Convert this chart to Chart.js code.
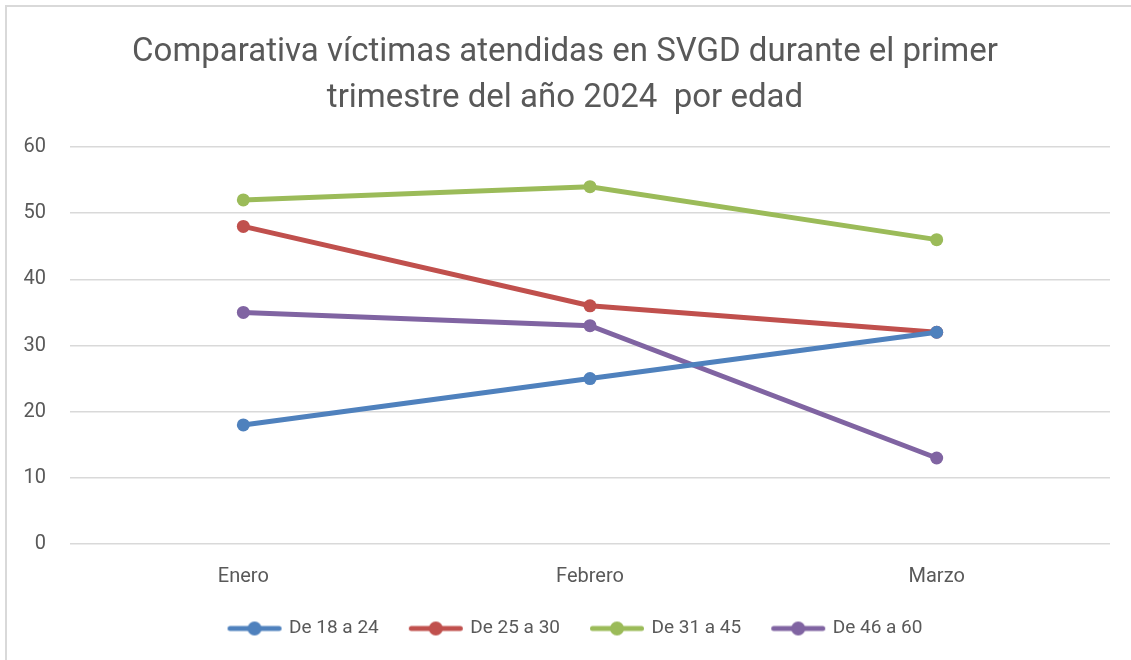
<!DOCTYPE html>
<html>
<head>
<meta charset="utf-8">
<script src="https://cdn.jsdelivr.net/npm/chart.js@4.4.1/dist/chart.umd.min.js"></script>
<style>
  html, body { margin: 0; padding: 0; background: #fff; }
  #wrap { position: relative; width: 1131px; height: 660px; }
</style>
</head>
<body>
<div id="wrap"><canvas id="c" width="1131" height="660"></canvas></div>
<script>
const categories = ["Enero", "Febrero", "Marzo"];
const seriesNames = ["De 18 a 24", "De 25 a 30", "De 31 a 45", "De 46 a 60"];
const de18a24 = [18, 25, 32];
const de25a30 = [48, 36, 32];
const de31a45 = [52, 54, 46];
const de46a60 = [35, 33, 13];
const titleLines = ["Comparativa víctimas atendidas en SVGD durante el primer", "trimestre del año 2024  por edad"];
const yMin = 0, yMax = 60, yStep = 10;

const colors = ["#4F81BD", "#C0504D", "#9BBB59", "#8064A2"];
const seriesValues = [de18a24, de25a30, de31a45, de46a60];
const FONT = "Roboto, 'Liberation Sans', sans-serif";
const TEXT = "#595959";

// legend marker: line with a dot, drawn in the right part of a wider image
function legendIcon(color) {
  const c = document.createElement("canvas");
  c.width = 82; c.height = 16;
  const x = c.getContext("2d");
  x.strokeStyle = color; x.lineWidth = 5; x.lineCap = "round";
  x.beginPath(); x.moveTo(27.5, 8); x.lineTo(76.5, 8); x.stroke();
  x.fillStyle = color;
  x.beginPath(); x.arc(52, 8, 7, 0, Math.PI * 2); x.fill();
  return c;
}

const borderPlugin = {
  id: "frame",
  afterDraw(chart) {
    const ctx = chart.ctx;
    ctx.save();
    ctx.strokeStyle = "#D9D9D9";
    ctx.lineWidth = 2;
    ctx.beginPath();
    ctx.moveTo(6, 660); ctx.lineTo(6, 6); ctx.lineTo(1131, 6);
    ctx.stroke();
    ctx.restore();
  }
};

new Chart(document.getElementById("c"), {
  type: "line",
  data: {
    labels: categories,
    datasets: seriesNames.map((n, i) => ({
      label: n,
      data: seriesValues[i],
      borderColor: colors[i],
      backgroundColor: colors[i],
      borderWidth: 5,
      pointStyle: "circle",
      pointRadius: 6.5,
      pointHoverRadius: 6.5,
      pointBackgroundColor: colors[i],
      pointBorderColor: colors[i],
      pointBorderWidth: 0,
      tension: 0,
      fill: false
    }))
  },
  options: {
    responsive: false,
    animation: false,
    layout: { padding: { left: 20, right: 21, top: 2, bottom: 12 } },
    plugins: {
      title: {
        display: true,
        text: titleLines,
        color: TEXT,
        font: { family: FONT, size: 33, weight: "normal", lineHeight: 1.394 },
        padding: { top: 28, bottom: 25 }
      },
      legend: {
        position: "bottom",
        labels: {
          color: TEXT,
          font: { family: FONT, size: 19 },
          usePointStyle: true,
          pointStyleWidth: 72,
          padding: 10,
          generateLabels(chart) {
            return chart.data.datasets.map((d, i) => ({
              text: d.label,
              fillStyle: colors[i],
              strokeStyle: colors[i],
              lineWidth: 0,
              pointStyle: legendIcon(colors[i]),
              fontColor: TEXT,
              hidden: false,
              datasetIndex: i
            }));
          }
        }
      },
      tooltip: { enabled: false }
    },
    scales: {
      x: {
        offset: true,
        grid: { display: false, drawTicks: false },
        border: { display: false },
        ticks: { color: TEXT, font: { family: FONT, size: 20 }, padding: 20.5 }
      },
      y: {
        min: yMin, max: yMax,
        afterFit(s) { s.width = 50; },
        grid: { color: "#D9D9D9", lineWidth: 1.5, drawTicks: false },
        border: { display: false },
        ticks: { stepSize: yStep, color: TEXT, font: { family: FONT, size: 20 }, padding: 24 }
      }
    }
  },
  plugins: [borderPlugin]
});
</script>
</body>
</html>
